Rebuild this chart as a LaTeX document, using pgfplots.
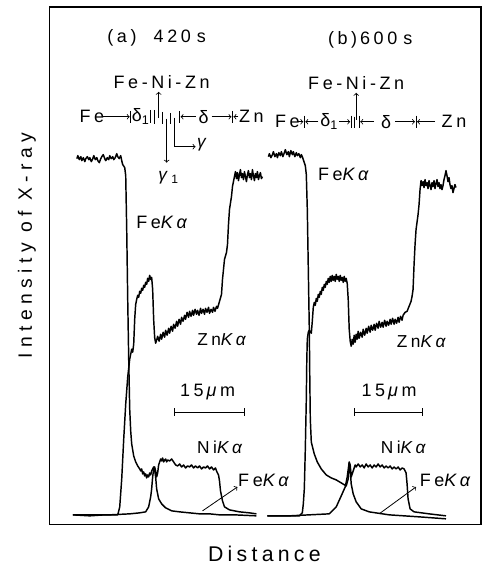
\documentclass[border=0pt]{standalone}
\usepackage{fontspec}
\setmainfont{Liberation Sans}
\newfontfamily\lsf[LetterSpace=20]{Liberation Sans}
\newfontfamily\wsf[LetterSpace=28]{Liberation Sans}
\usepackage{pgfplots}
\pgfplotsset{compat=1.18}
\begin{document}
\begin{tikzpicture}
\begin{axis}[
  scale only axis, width=324pt, height=389.25pt,
  xmin=50, xmax=482, ymin=7, ymax=526, y dir=reverse,
  xtick=\empty, ytick=\empty,
  axis line style={line width=0.9pt},
  clip=false,
]
\path (axis cs:0,0) rectangle (axis cs:486,566);
% ---------------- panel (a) ----------------
% Fe K-alpha (a)
\addplot[black, line width=1.1pt, line join=round] coordinates {(77,159)(78,156)(79.5,160)(81,157)(82,161)(83.5,158)(85,162)(86,159)(87.5,157)(89,160)(90,158)(91.5,162)(93,159)(94,156)(95.5,160)(97,158)(98,161)(99.5,163)(101,159)(102,157)(103.5,155)(105,159)(106,161)(107.5,158)(109,160)(110,156)(111.5,159)(113,157)(114,160)(115.5,158)(117,154)(118,157)(119.5,159)(121,156)(122,161)(123,165)(125,168)(126,176)(127,230)(128,300)(129,360)(130,410)(131,432)(132,445)(134,457)(136,463)(138,467)(140,470)(141,472)(142,470)(143,475)(144,473)(145,477)(146,475)(147,479)(148,476)(149,478)(150,474)(151,476)(152,472)(153,470)(154,468)(155,471)(156,478)(157,490)(159,500)(162,505)(166,509)(172,512)(180,513)(190,514)(200,515)(210,515)(220,516)(235,516)(257,517)};
% Zn K-alpha (a)
\addplot[black, line width=1.1pt, line join=round] coordinates {(73,516)(90,517)(105,516)(118,516)(120,508)(122,480)(124,440)(126,405)(128,378)(130,360)(132,350)(133,353)(134,345)(135,320)(136,305)(137,300)(138,296)(139,298)(140,292)(141,294)(142,289)(143,291)(144,286)(145,288)(146,283)(147,285)(148,279)(149,282)(150,276)(151,280)(152,278)(153,290)(154,320)(155,338)(156,344)(157,341)(158,337)(159.5,342)(161,335)(162,340)(163.5,333)(165,338)(166,331)(167.5,336)(169,329)(170,334)(171.5,327)(173,332)(174,325)(175.5,329)(177,322)(178,327)(179.5,320)(181,325)(182,318)(183.5,322)(185,316)(186,320)(187.5,313)(189,318)(190,312)(191.5,317)(193,311)(194,316)(195.5,310)(197,315)(198,311)(199.5,316)(201,309)(202,314)(203.5,310)(205,315)(206,309)(207.5,313)(209,308)(210,314)(211.5,310)(213,313)(214,308)(215.5,312)(217,307)(218,309)(220,302)(222,295)(223,280)(225,260)(227,253)(228,245)(229,225)(230,210)(232,197)(233,187)(235,177)(236,172)(237,179)(238,173)(239,181)(240,175)(241,170)(242,178)(243,174)(244,180)(245,172)(246,177)(247,182)(248,175)(249,171)(250,178)(251,174)(252,180)(253,170)(254,176)(255,181)(256,174)(257,178)(258,172)(259,180)(260,176)(261,173)(262,179)(263,177)};
% Ni K-alpha (a)
\addplot[black, line width=1.1pt, line join=round] coordinates {(73,516)(90,516)(110,516)(130,515)(140,514)(146,513)(149,508)(151,498)(152,490)(153,478)(154,470)(155,468)(156,472)(157,478)(158,474)(159,466)(160,463)(161,460)(162,462)(163,459)(164,463)(165,461)(166,460)(167,463)(168,461)(170,462)(172,460)(174,463)(176,466)(178,467)(180,465)(182,468)(184,466)(186,469)(188,467)(190,468)(192,466)(194,469)(196,467)(198,469)(200,467)(202,470)(204,468)(206,469)(208,467)(210,470)(212,468)(214,471)(216,469)(217,472)(219,476)(220,482)(221,492)(223,502)(225,508)(230,511)(240,513)(250,514)(257,515)};
% ---------------- panel (b) ----------------
% Fe K-alpha (b)
\addplot[black, line width=1.1pt, line join=round] coordinates {(269,157)(270,154)(271.5,158)(273,155)(274,152)(275.5,157)(277,154)(278,158)(279.5,153)(281,156)(282,152)(283.5,157)(285,153)(286,150)(287.5,155)(289,152)(290,157)(291.5,151)(293,155)(294,152)(295.5,157)(297,153)(298,156)(299.5,154)(301,158)(302,155)(303,157)(304,160)(306,166)(307,175)(308,210)(309,270)(310,330)(310.5,380)(311,420)(312,443)(315,455)(318,463)(322,470)(327,476)(332,479)(337,481)(342,484)(347,487)(349,480)(350,464)(351,470)(352,485)(354,495)(357,503)(362,510)(370,513)(390,516)(420,518)(447,520)};
% Zn K-alpha (b)
\addplot[black, line width=1.1pt, line join=round] coordinates {(268,517)(285,517)(300,517)(303,514)(304,505)(305,490)(306,450)(307,400)(307.5,360)(308,340)(309,333)(310,331)(312,334)(313,322)(314,308)(315,303)(316,306)(317,299)(318,302)(319,295)(320,298)(321,292)(322,295)(323,288)(324,291)(325,285)(326,288)(327,282)(328,285)(329,279)(330,283)(331,277)(332,282)(333,276)(334,281)(335,277)(336,282)(337,275)(338,280)(339,277)(340,282)(341,276)(342,281)(343,278)(344,283)(345,277)(346,282)(347,279)(348,284)(349,300)(350,330)(351,342)(352,347)(353,340)(354,345)(355,336)(356,343)(357,335)(358,340)(359,332)(360,339)(361.5,333)(363,338)(364,330)(365.5,336)(367,329)(368,334)(369.5,327)(371,333)(372,326)(373.5,331)(375,325)(376,331)(377.5,324)(379,329)(380,322)(381.5,328)(383,323)(384,328)(385.5,321)(387,327)(388,322)(389.5,326)(391,320)(392,325)(393.5,319)(395,325)(396,320)(397.5,324)(399,318)(400,323)(401.5,317)(403,321)(404,316)(406,313)(408,312)(410,307)(412,302)(413,297)(414,290)(415,265)(416,245)(417,230)(419,215)(420,205)(421,190)(422,181)(423,186)(424,182)(425,188)(426,180)(427,186)(428,183)(429,189)(430,181)(431,186)(432,190)(433,183)(434,187)(435,181)(436,189)(437,184)(438,180)(439,187)(440,183)(441,189)(442,185)(443,190)(444,186)(445,180)(446,176)(447,171)(448,176)(449,182)(450,178)(451,185)(452,189)(453,186)(454,193)(455,189)(456,185)(457,188)};
% Ni K-alpha (b)
\addplot[black, line width=1.1pt, line join=round] coordinates {(268,517)(290,517)(310,516)(330,515)(337,508)(342,497)(346,488)(348,478)(350,463)(351,466)(352,478)(353,475)(355,469)(356,466)(357,468)(359,465)(361,468)(363,466)(365,469)(367,465)(369,468)(371,466)(373,469)(375,466)(377,468)(379,465)(381,468)(383,466)(385,469)(387,467)(389,469)(391,467)(393,470)(395,468)(397,470)(399,468)(401,471)(403,469)(405,470)(407,474)(408,485)(409,500)(411,510)(415,513)(430,515)(447,517)};
% ---------------- annotations (a) ----------------
\node[font=\lsf\fontsize{13.5}{15}\selectfont] at (axis cs:157,38) {(a)\ \ 420\,\,s};
\node[font=\lsf\fontsize{13.5}{15}\selectfont] at (axis cs:162,82) {Fe-Ni-Zn};
\begin{scope}[line width=0.6pt]
\draw[->] (axis cs:159,118) -- (axis cs:159,92);
\node[font=\lsf\fontsize{13.5}{15}\selectfont] at (axis cs:92,117) {Fe};
\draw[->] (axis cs:103,117) -- (axis cs:130,117);
\draw (axis cs:131,111) -- (axis cs:131,123);
\node[font=\lsf\fontsize{13.5}{15}\selectfont] at (axis cs:141,117) {δ\textsubscript{1}};
\draw (axis cs:151,110) -- (axis cs:151,123);
\draw (axis cs:155,110) -- (axis cs:155,124);
\draw (axis cs:163,112) -- (axis cs:163,124);
\draw (axis cs:171,113) -- (axis cs:171,124);
\draw (axis cs:180,111) -- (axis cs:180,123);
\draw[->] (axis cs:196,117) -- (axis cs:181,117);
\node[font=\lsf\fontsize{13.5}{15}\selectfont] at (axis cs:204,117) {δ};
\draw[->] (axis cs:212,117) -- (axis cs:232,117);
\draw (axis cs:233,111) -- (axis cs:233,123);
\draw[->] (axis cs:239,117) -- (axis cs:234,117);
\node[font=\lsf\fontsize{13.5}{15}\selectfont] at (axis cs:252,117) {Zn};
\draw[->] (axis cs:167,119) -- (axis cs:167,163);
\node[font=\lsf\fontsize{13}{15}\selectfont] at (axis cs:169,178) {\textit{γ}\textsubscript{1}};
\draw[->] (axis cs:175,118) -- (axis cs:175,147) -- (axis cs:196,147);
\node[font=\lsf\fontsize{13}{15}\selectfont] at (axis cs:204,145) {\textit{γ}};
\end{scope}
\node[font=\lsf\fontsize{13.5}{15}\selectfont] at (axis cs:164,223) {Fe\textit{Kα}};
\node[font=\lsf\fontsize{13}{15}\selectfont] at (axis cs:224,340) {Zn\textit{Kα}};
\node[font=\lsf\fontsize{13.5}{15}\selectfont] at (axis cs:208,393) {15\,\textit{μ}m};
\draw[line width=0.7pt] (axis cs:175,413) -- (axis cs:245,413);
\draw[line width=0.7pt] (axis cs:175,409) -- (axis cs:175,417);
\draw[line width=0.7pt] (axis cs:245,409) -- (axis cs:245,417);
\node[font=\lsf\fontsize{13}{15}\selectfont] at (axis cs:222,448) {Ni\textit{Kα}};
\draw[->, line width=0.6pt] (axis cs:203,512) -- (axis cs:238,488);
\node[font=\lsf\fontsize{13.5}{15}\selectfont] at (axis cs:266,481) {Fe\textit{Kα}};
% ---------------- annotations (b) ----------------
\node[font=\lsf\fontsize{13.5}{15}\selectfont] at (axis cs:371,40) {(b)\,600\,\,s};
\node[font=\lsf\fontsize{13.5}{15}\selectfont] at (axis cs:357,83) {Fe-Ni-Zn};
\begin{scope}[line width=0.6pt]
\draw[->] (axis cs:357,120) -- (axis cs:357,93);
\node[font=\lsf\fontsize{13.5}{15}\selectfont] at (axis cs:288,122) {Fe};
\draw (axis cs:305,116) -- (axis cs:305,128);
\draw[->] (axis cs:299,122) -- (axis cs:304,122);
\draw[->] (axis cs:319,122) -- (axis cs:306,122);
\node[font=\lsf\fontsize{13.5}{15}\selectfont] at (axis cs:330,122) {δ\textsubscript{1}};
\draw[->] (axis cs:340,122) -- (axis cs:351,122);
\draw (axis cs:352,116) -- (axis cs:352,128);
\draw (axis cs:355,117) -- (axis cs:355,128);
\draw (axis cs:360,116) -- (axis cs:360,128);
\draw[->] (axis cs:375,122) -- (axis cs:361,122);
\node[font=\lsf\fontsize{13.5}{15}\selectfont] at (axis cs:387,122) {δ};
\draw[->] (axis cs:396,122) -- (axis cs:416,122);
\draw (axis cs:417,116) -- (axis cs:417,128);
\draw[->] (axis cs:436,122) -- (axis cs:418,122);
\node[font=\lsf\fontsize{13.5}{15}\selectfont] at (axis cs:455,122) {Zn};
\end{scope}
\node[font=\lsf\fontsize{13.5}{15}\selectfont] at (axis cs:346,175) {Fe\textit{Kα}};
\node[font=\lsf\fontsize{13}{15}\selectfont] at (axis cs:424,342) {Zn\textit{Kα}};
\node[font=\lsf\fontsize{13.5}{15}\selectfont] at (axis cs:390,393) {15\,\textit{μ}m};
\draw[line width=0.7pt] (axis cs:355,413) -- (axis cs:423,413);
\draw[line width=0.7pt] (axis cs:355,409) -- (axis cs:355,417);
\draw[line width=0.7pt] (axis cs:423,409) -- (axis cs:423,417);
\node[font=\lsf\fontsize{13}{15}\selectfont] at (axis cs:406,448) {Ni\textit{Kα}};
\draw[->, line width=0.6pt] (axis cs:380,515) -- (axis cs:417,488);
\node[font=\lsf\fontsize{13.5}{15}\selectfont] at (axis cs:448,481) {Fe\textit{Kα}};
% ---------------- axis titles ----------------
\node[font=\wsf\fontsize{14.5}{16}\selectfont, rotate=90] at (axis cs:27,246) {Intensity of X-ray};
\node[font=\lsf\fontsize{16}{18}\selectfont] at (axis cs:265,555) {Distance};
\end{axis}
\end{tikzpicture}
\end{document}
